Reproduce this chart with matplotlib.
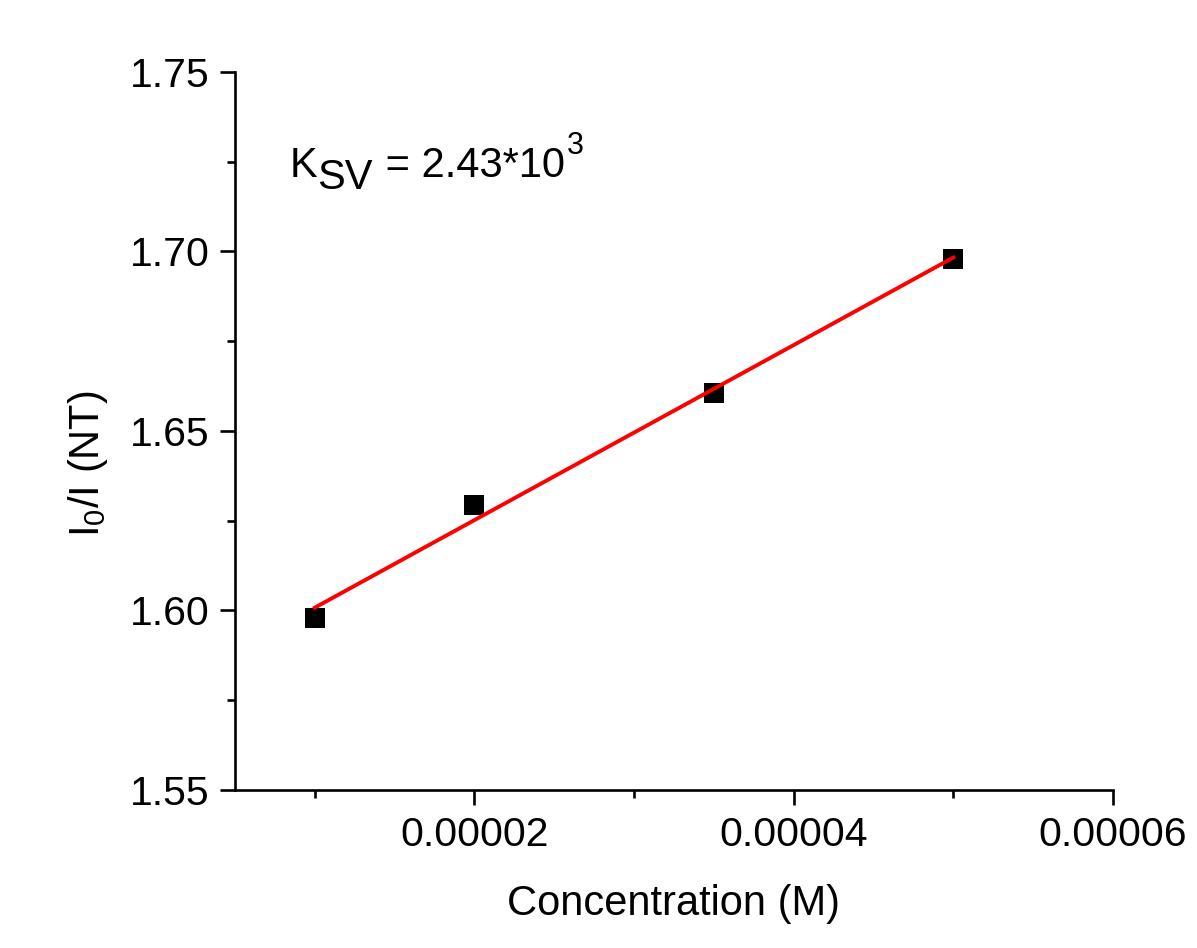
import numpy as np
import matplotlib
matplotlib.use("Agg")
import matplotlib.pyplot as plt
from matplotlib.ticker import MultipleLocator, FuncFormatter

plt.rcParams['font.family'] = ['Liberation Sans', 'DejaVu Sans']
plt.rcParams['mathtext.fontset'] = 'custom'
plt.rcParams['mathtext.rm'] = 'Liberation Sans'
plt.rcParams['mathtext.it'] = 'Liberation Sans:italic'
plt.rcParams['mathtext.default'] = 'regular'

concentration = [0.00001, 0.00002, 0.000035, 0.00005]
ratio = [1.598, 1.6295, 1.6605, 1.698]
x_label = "Concentration (M)"
y_label = "I$_0$/I (NT)"
ann_main = "K"
ann_sub = "SV"
ann_rest = " = 2.43*10"
ann_sup = "3"

fig = plt.figure(figsize=(11.97, 9.48), dpi=100)
ax = fig.add_axes([0.1963, 0.1667, 0.7335, 0.7574])

x = np.array(concentration)
y = np.array(ratio)
slope, intercept = np.polyfit(x, y, 1)
ax.scatter(x, y, marker='s', s=207, color='black', zorder=3, linewidths=0)
ax.plot(x, slope * x + intercept, color='red', lw=2.8, zorder=4)

ax.set_xlim(0.000005, 0.00006)
ax.set_ylim(1.55, 1.75)
ax.xaxis.set_major_locator(MultipleLocator(0.00002))
ax.xaxis.set_minor_locator(MultipleLocator(0.00001))
ax.yaxis.set_major_locator(MultipleLocator(0.05))
ax.yaxis.set_minor_locator(MultipleLocator(0.025))
ax.xaxis.set_major_formatter(FuncFormatter(lambda v, p: f"{v:.5f}"))
ax.yaxis.set_major_formatter(FuncFormatter(lambda v, p: f"{v:.2f}"))

for s in ['top', 'right']:
    ax.spines[s].set_visible(False)
for s in ['left', 'bottom']:
    ax.spines[s].set_linewidth(1.9)

ax.tick_params(which='major', direction='out', length=10.5, width=1.9, labelsize=29.5, pad=8)
ax.tick_params(which='minor', direction='out', length=6, width=1.9)

ax.set_xlabel(x_label, fontsize=30, labelpad=22)
ax.set_ylabel(y_label, fontsize=30)
ax.yaxis.set_label_coords(-0.142, 0.455)

fs = 30
t1 = ax.text(0.062, 0.854, ann_main, transform=ax.transAxes, fontsize=fs, va='baseline', ha='left')
t2 = ax.annotate(ann_sub, xy=(1, 0), xycoords=t1, xytext=(0, -8.6), textcoords='offset points',
                 fontsize=fs, va='bottom', ha='left')
t3 = ax.annotate(ann_rest, xy=(1, 0), xycoords=t2, xytext=(1, 8.6), textcoords='offset points',
                 fontsize=fs, va='bottom', ha='left')
t4 = ax.annotate(ann_sup, xy=(1, 0), xycoords=t3, xytext=(1.5, 17.5), textcoords='offset points',
                 fontsize=22, va='bottom', ha='left')

fig.savefig("out.png", dpi=100, facecolor='white')
